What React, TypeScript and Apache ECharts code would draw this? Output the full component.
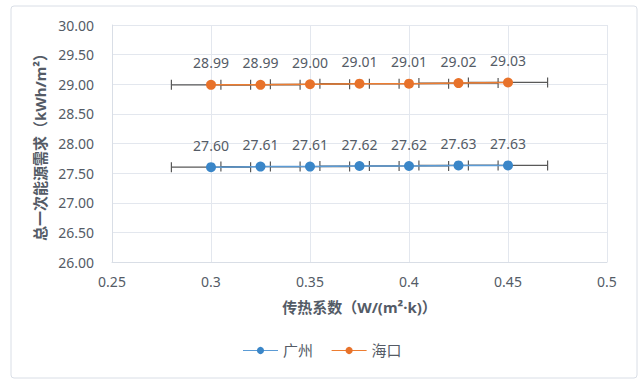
import React, { useEffect, useRef } from "react";
import * as echarts from "echarts";

const xValues = [0.3, 0.325, 0.35, 0.375, 0.4, 0.425, 0.45];
const guangzhou = [27.6, 27.61, 27.61, 27.62, 27.62, 27.63, 27.63];
const haikou = [28.99, 28.99, 29.0, 29.01, 29.01, 29.02, 29.03];
const xError = [0.02, 0.02, 0.02, 0.02, 0.02, 0.02, 0.02];
const seriesNames = ["广州", "海口"];

const FONT = "'Noto Sans', 'Noto Sans CJK SC', sans-serif";
const TEXT = "#545B66";

export default function App() {
  const ref = useRef<HTMLDivElement>(null);
  useEffect(() => {
    if (!ref.current) return;
    const chart = echarts.init(ref.current, null, { renderer: "svg" });
    const gzData = xValues.map((x, i) => [x, guangzhou[i]]);
    const hkData = xValues.map((x, i) => [x, haikou[i]]);
    const errData = [
      ...xValues.map((x, i) => [x, guangzhou[i], xError[i]]),
      ...xValues.map((x, i) => [x, haikou[i], xError[i]]),
    ];
    const lineSeries = (name: string, data: number[][], lineColor: string, markColor: string) => ({
      name,
      type: "line",
      data,
      z: 3,
      symbol: "circle",
      symbolSize: 10,
      lineStyle: { color: lineColor, width: 1.5 },
      itemStyle: { color: markColor },
      label: {
        show: true,
        position: "top",
        distance: 10,
        color: TEXT,
        fontSize: 14,
        fontFamily: FONT,
        formatter: (p: any) => p.value[1].toFixed(2),
      },
    });
    chart.setOption({
      animation: false,
      textStyle: { fontFamily: FONT },
      graphic: [
        {
          type: "rect",
          shape: { x: 11, y: 6, width: 626, height: 372, r: 3 },
          style: { fill: "none", stroke: "#D9DEE6", lineWidth: 1 },
          z: -10,
        },
      ],
      grid: { left: 112, right: 37, top: 25, bottom: 123 },
      legend: {
        data: seriesNames,
        bottom: 22,
        left: "center",
        itemWidth: 35,
        itemHeight: 9,
        itemGap: 18,
        lineStyle: { width: 1.2 },
        textStyle: { color: TEXT, fontSize: 15, fontFamily: FONT },
      },
      xAxis: {
        type: "value",
        min: 0.25,
        max: 0.5,
        interval: 0.05,
        name: "传热系数（W/(m²·k)）",
        nameLocation: "middle",
        nameGap: 37,
        nameTextStyle: { color: TEXT, fontSize: 15, fontWeight: "bold", fontFamily: FONT },
        axisLine: { show: true, lineStyle: { color: "#D9DEE6" } },
        axisTick: { show: false },
        axisLabel: {
          color: TEXT,
          fontSize: 14,
          margin: 12,
          fontFamily: FONT,
          formatter: (v: number) => String(parseFloat(v.toFixed(2))),
        },
        splitLine: { show: true, lineStyle: { color: "#E3E7EE" } },
      },
      yAxis: {
        type: "value",
        min: 26,
        max: 30,
        interval: 0.5,
        name: "总一次能源需求（kWh/m²）",
        nameLocation: "middle",
        nameGap: 60,
        nameTextStyle: { color: TEXT, fontSize: 15, fontWeight: "bold", fontFamily: FONT },
        axisLine: { show: true, lineStyle: { color: "#D9DEE6" } },
        axisTick: { show: false },
        axisLabel: {
          color: TEXT,
          fontSize: 14,
          margin: 18,
          fontFamily: FONT,
          formatter: (v: number) => v.toFixed(2),
        },
        splitLine: { show: true, lineStyle: { color: "#E3E7EE" } },
      },
      series: [
        {
          type: "custom",
          name: "errorbar",
          z: 2,
          silent: true,
          data: errData,
          renderItem: (params: any, api: any) => {
            const x = api.value(0);
            const y = api.value(1);
            const e = api.value(2);
            const p1 = api.coord([x - e, y]);
            const p2 = api.coord([x + e, y]);
            const h = 5;
            const style = { stroke: "#595959", lineWidth: 1.2 };
            return {
              type: "group",
              children: [
                { type: "line", shape: { x1: p1[0], y1: p1[1], x2: p2[0], y2: p2[1] }, style },
                { type: "line", shape: { x1: p1[0], y1: p1[1] - h, x2: p1[0], y2: p1[1] + h }, style },
                { type: "line", shape: { x1: p2[0], y1: p2[1] - h, x2: p2[0], y2: p2[1] + h }, style },
              ],
            };
          },
        },
        lineSeries(seriesNames[0], gzData, "#5B9BD5", "#3A86C8"),
        lineSeries(seriesNames[1], hkData, "#ED7D31", "#E8722A"),
      ],
    });
    return () => chart.dispose();
  }, []);
  return <div ref={ref} style={{ width: 644, height: 385, position: "absolute", left: 0, top: 0 }} />;
}
